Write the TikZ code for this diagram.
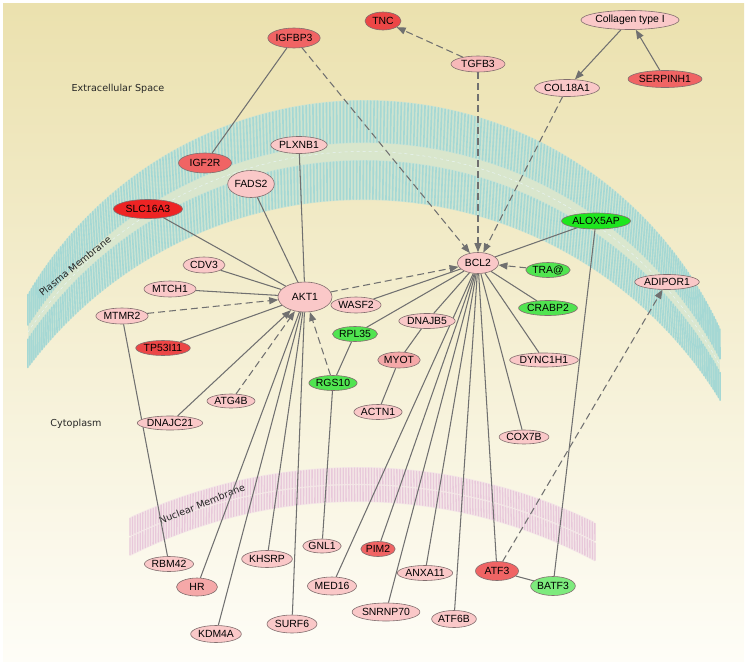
\documentclass[tikz,border=0pt]{standalone}
\usepackage{fontspec}
\setmainfont{Liberation Sans}
\newfontfamily\labelfont{DejaVu Sans}
\usetikzlibrary{shapes.geometric,arrows.meta}
\definecolor{bgtop}{RGB}{235,225,174}
\definecolor{bgmid}{RGB}{246,241,214}
\definecolor{bgbot}{RGB}{254,253,247}
\definecolor{pmfillc}{RGB}{200,228,214}
\definecolor{pmgapc}{RGB}{212,230,208}
\definecolor{pmstripec}{RGB}{165,216,212}
\definecolor{nmfillc}{RGB}{243,228,232}
\definecolor{nmstripec}{RGB}{232,200,218}
\definecolor{lpink}{RGB}{250,200,200}
\definecolor{mpink}{RGB}{245,168,168}
\definecolor{tpink}{RGB}{247,185,185}
\definecolor{redA}{RGB}{238,36,36}
\definecolor{redB}{RGB}{236,70,70}
\definecolor{redC}{RGB}{240,100,100}
\definecolor{grnA}{RGB}{30,230,30}
\definecolor{grnB}{RGB}{80,228,80}
\definecolor{grnC}{RGB}{125,235,125}
\definecolor{edgec}{RGB}{112,112,112}
\definecolor{borderc}{RGB}{130,110,110}
\newcommand\genefont{\fontsize{10.4}{12}\selectfont}
\newcommand\regionfont{\labelfont\fontsize{9.6}{11}\selectfont}
\pgfdeclarelayer{bglayer}
\pgfdeclarelayer{edgelayer}
\pgfsetlayers{bglayer,edgelayer,main}
\begin{document}
\begin{tikzpicture}[x=1pt,y=-1pt,
  declare function={
    ptx(\x)=365+390*cos(149.8-125.3*\x);
    pty(\x)=490-390*sin(149.8-125.3*\x);
    pbx(\x)=363+418*cos(143.3-112*\x);
    pby(\x)=618-418*sin(143.3-112*\x);
    pmx(\x,\y)=(1-\y)*ptx(\x)+\y*pbx(\x);
    pmy(\x,\y)=(1-\y)*pty(\x)+\y*pby(\x);
    ntx(\x)=357.3+540*cos(114.9-51*\x);
    nty(\x)=1007-540*sin(114.9-51*\x);
    nbx(\x)=357.3+505*cos(116.75-54.83*\x);
    nby(\x)=1007-505*sin(116.75-54.83*\x);
    nmx(\x,\y)=(1-\y)*ntx(\x)+\y*nbx(\x);
    nmy(\x,\y)=(1-\y)*nty(\x)+\y*nby(\x);
  },
  gene/.style={ellipse, draw=borderc, line width=0.6pt, inner sep=0pt, font=\genefont, text=black},
  sz/.style 2 args={minimum width=#1pt, minimum height=#2pt},
  lp/.style={gene, fill=lpink},
  mp/.style={gene, fill=mpink},
  tp/.style={gene, fill=tpink},
  rA/.style={gene, fill=redA},
  rB/.style={gene, fill=redB},
  rC/.style={gene, fill=redC},
  gA/.style={gene, fill=grnA},
  gB/.style={gene, fill=grnB},
  gC/.style={gene, fill=grnC},
  edge/.style={draw=edgec, line width=1.05pt},
  dsh/.style={dash pattern=on 7pt off 4pt},
  arr/.style={-{Triangle[length=9pt,width=7pt]}},
  pmstripe/.style={draw=pmstripec, line width=1.6pt, line cap=round},
  nmstripe/.style={draw=nmstripec, line width=1.3pt, line cap=round},
  region/.style={font=\regionfont, text=black!85, inner sep=0pt}
]
\useasboundingbox (0,0) rectangle (750,664);
\begin{pgfonlayer}{bglayer}
% background
\shade[top color=bgtop, middle color=bgmid, bottom color=bgbot] (3,3) rectangle (744,661);

% plasma membrane
\fill[pmgapc, opacity=0.8] plot[domain=0:1,samples=120,variable=\t] ({pmx(\t,0.4)},{pmy(\t,0.4)}) -- plot[domain=1:0,samples=120,variable=\t] ({pmx(\t,0.63)},{pmy(\t,0.63)}) -- cycle;
\fill[pmfillc, opacity=0.8] plot[domain=0:1,samples=120,variable=\t] ({pmx(\t,0)},{pmy(\t,0)}) -- plot[domain=1:0,samples=120,variable=\t] ({pmx(\t,0.43)},{pmy(\t,0.43)}) -- cycle;
\fill[pmfillc, opacity=0.8] plot[domain=0:1,samples=120,variable=\t] ({pmx(\t,0.6)},{pmy(\t,0.6)}) -- plot[domain=1:0,samples=120,variable=\t] ({pmx(\t,1)},{pmy(\t,1)}) -- cycle;
\foreach \i in {0,...,250}{
  \pgfmathsetmacro\tv{\i/250}
  \draw[pmstripe] ({pmx(\tv,0.01)},{pmy(\tv,0.01)}) -- ({pmx(\tv,0.42)},{pmy(\tv,0.42)});
  \draw[pmstripe] ({pmx(\tv,0.61)},{pmy(\tv,0.61)}) -- ({pmx(\tv,0.99)},{pmy(\tv,0.99)});
}
\draw[white!75!pmstripec, line width=0.5pt, dash pattern=on 3pt off 3pt] plot[domain=0:1,samples=100,variable=\t] ({pmx(\t,0.515)},{pmy(\t,0.515)});

% nuclear membrane
\fill[nmfillc, opacity=0.8] plot[domain=0:1,samples=100,variable=\t] ({nmx(\t,0)},{nmy(\t,0)}) -- plot[domain=1:0,samples=100,variable=\t] ({nmx(\t,1)},{nmy(\t,1)}) -- cycle;
\foreach \i in {0,...,170}{
  \pgfmathsetmacro\tv{\i/170}
  \draw[nmstripe] ({nmx(\tv,0.03)},{nmy(\tv,0.03)}) -- ({nmx(\tv,0.47)},{nmy(\tv,0.47)});
  \draw[nmstripe] ({nmx(\tv,0.53)},{nmy(\tv,0.53)}) -- ({nmx(\tv,0.97)},{nmy(\tv,0.97)});
}

% region labels
\node[region] (lblEx) at (118,89) {Extracellular Space};
\node[region] (lblCy) at (76,424) {Cytoplasm};
\node[region, rotate=39] (lblPM) at (75,266) {Plasma Membrane};
\node[region, rotate=22] (lblNM) at (202,504) {Nuclear Membrane};
\end{pgfonlayer}

% nodes
\node[rC, sz={46}{20}] (IGFBP3) at (294,38) {IGFBP3};
\node[rB, sz={36}{18}] (TNC) at (383,21) {TNC};
\node[lp, sz={86}{19}] (COL1) at (630,20) {Collagen type I};
\node[tp, sz={54}{16}] (TGFB3) at (478,64) {TGFB3};
\node[lp, sz={65}{17}] (COL18A1) at (567,88) {COL18A1};
\node[rC, sz={74}{17}] (SERPINH1) at (665,79) {SERPINH1};
\node[rC, sz={53}{20}] (IGF2R) at (205,163) {IGF2R};
\node[lp, sz={46}{17}] (PLXNB1) at (299,145) {PLXNB1};
\node[lp, sz={45}{27}] (FADS2) at (251,184) {FADS2};
\node[rA, sz={69}{19}] (SLC16A3) at (148,209) {SLC16A3};
\node[gA, sz={69}{16}] (ALOX5AP) at (596,221) {ALOX5AP};
\node[lp, sz={41}{21}] (BCL2) at (478,263) {BCL2};
\node[gB, sz={43}{15}] (TRA) at (548,270) {TRA@};
\node[gB, sz={49}{15}] (CRABP2) at (548,308) {CRABP2};
\node[lp, sz={49}{15}] (ADIPOR1) at (667,282) {ADIPOR1};
\node[lp, sz={58}{14}] (DYNC1H1) at (544,360) {DYNC1H1};
\node[lp, sz={46}{14}] (COX7B) at (524,437) {COX7B};
\node[lp, sz={42}{16}] (CDV3) at (204,265) {CDV3};
\node[lp, sz={52}{16}] (MTCH1) at (170,289) {MTCH1};
\node[lp, sz={54}{30}] (AKT1) at (305,297) {AKT1};
\node[lp, sz={43}{16}] (WASF2) at (356,305) {WASF2};
\node[lp, sz={44}{16}] (MTMR2) at (122,316) {MTMR2};
\node[rB, sz={54}{15}] (TP53I11) at (163,348) {TP53I11};
\node[gB, sz={44}{15}] (RPL35) at (355,334) {RPL35};
\node[lp, sz={44}{15}] (DNAJB5) at (427,321) {DNAJB5};
\node[mp, sz={40}{16}] (MYOT) at (399,360) {MYOT};
\node[gB, sz={47}{15}] (RGS10) at (333,383) {RGS10};
\node[lp, sz={48}{14}] (ATG4B) at (231,401) {ATG4B};
\node[lp, sz={63}{14}] (DNAJC21) at (170,423) {DNAJC21};
\node[lp, sz={46}{15}] (ACTN1) at (378,412) {ACTN1};
\node[lp, sz={48}{15}] (RBM42) at (169,564) {RBM42};
\node[mp, sz={41}{18}] (HR) at (197,587) {HR};
\node[lp, sz={42}{17}] (KDM4A) at (216,634) {KDM4A};
\node[lp, sz={41}{17}] (KHSRP) at (267,559) {KHSRP};
\node[lp, sz={50}{18}] (SURF6) at (292,624) {SURF6};
\node[lp, sz={33}{14}] (GNL1) at (322,546) {GNL1};
\node[lp, sz={42}{18}] (MED16) at (332,586) {MED16};
\node[rC, sz={34}{15}] (PIM2) at (378,549) {PIM2};
\node[lp, sz={65}{18}] (SNRNP70) at (386,612) {SNRNP70};
\node[lp, sz={46}{15}] (ANXA11) at (425,573) {ANXA11};
\node[lp, sz={43}{17}] (ATF6B) at (454,619) {ATF6B};
\node[rC, sz={43}{19}] (ATF3) at (497,571) {ATF3};
\node[gC, sz={42}{19}] (BATF3) at (553,586) {BATF3};

% edges
\begin{pgfonlayer}{edgelayer}
\draw[edge] (IGFBP3) -- (IGF2R);
\draw[edge, dsh, arr] (IGFBP3) -- (BCL2);
\draw[edge, dsh, arr] (TGFB3) -- (TNC);
\draw[edge, dsh, arr] (TGFB3) -- (BCL2);
\draw[edge, dsh, arr] (COL18A1) -- (BCL2);
\draw[edge, arr] (COL1) -- (COL18A1);
\draw[edge, arr] (SERPINH1) -- (COL1);
\draw[edge] (PLXNB1) -- (AKT1);
\draw[edge] (FADS2) -- (AKT1);
\draw[edge] (SLC16A3) -- (AKT1);
\draw[edge] (CDV3) -- (AKT1);
\draw[edge] (MTCH1) -- (AKT1);
\draw[edge, dsh, arr] (MTMR2) -- (AKT1);
\draw[edge] (TP53I11) -- (AKT1);
\draw[edge, arr] (DNAJC21) -- (AKT1);
\draw[edge, dsh, arr] (ATG4B) -- (AKT1);
\draw[edge, dsh, arr] (RGS10) -- (AKT1);
\draw[edge, dsh, arr] (AKT1) -- (BCL2);
\draw[edge] (AKT1) -- (HR);
\draw[edge] (AKT1) -- (KDM4A);
\draw[edge] (AKT1) -- (KHSRP);
\draw[edge] (AKT1) -- (SURF6);
\draw[edge] (MTMR2) -- (RBM42);
\draw[edge] (RGS10) -- (RPL35);
\draw[edge] (RGS10) -- (GNL1);
\draw[edge] (RPL35) -- (BCL2);
\draw[edge] (WASF2) -- (BCL2);
\draw[edge] (DNAJB5) -- (BCL2);
\draw[edge] (DNAJB5) -- (MYOT);
\draw[edge] (MYOT) -- (ACTN1);
\draw[edge] (BCL2) -- (MED16);
\draw[edge] (BCL2) -- (PIM2);
\draw[edge] (BCL2) -- (SNRNP70);
\draw[edge] (BCL2) -- (ANXA11);
\draw[edge] (BCL2) -- (ATF6B);
\draw[edge] (BCL2) -- (ATF3);
\draw[edge] (BCL2) -- (COX7B);
\draw[edge] (BCL2) -- (DYNC1H1);
\draw[edge] (BCL2) -- (CRABP2);
\draw[edge] (BCL2) -- (ALOX5AP);
\draw[edge, dsh, arr] (TRA) -- (BCL2);
\draw[edge] (ALOX5AP) -- (BATF3);
\draw[edge] (ATF3) -- (BATF3);
\draw[edge, dsh, arr] (ATF3) -- (ADIPOR1);
\end{pgfonlayer}
\end{tikzpicture}
\end{document}
